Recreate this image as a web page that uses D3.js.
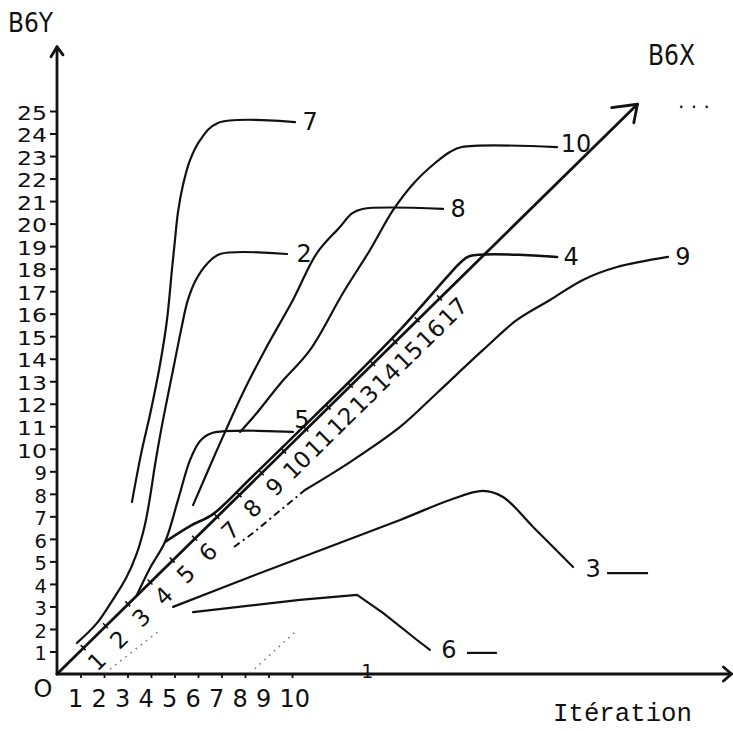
<!DOCTYPE html>
<html><head><meta charset="utf-8">
<script src="https://cdn.jsdelivr.net/npm/d3@7"></script>
<style>body{margin:0;background:#fff}svg{display:block}</style>
</head><body>
<svg id="c" width="733" height="731"></svg>
<script>
// ---------- DATA (x = itération, y = B6Y) ----------
const yTickValues = d3.range(1, 26);
const xTickValues = [1,2,3,4,5,6,7,8,9,10];
const diagTickValues = d3.range(1, 18);           // graduations along B6X
const b6xTip = [24.7, 25.3];                       // end of the oblique B6X axis

const curve7  = [[3.19,7.64],[3.57,9.73],[4.00,11.72],[4.38,13.72],[4.68,15.72],[4.89,17.94],[5.02,19.27],[5.15,20.52],[5.36,21.71],[5.66,22.82],[6.09,23.71],[6.85,24.47],[10.13,24.51]];
const curve2  = [[0.85,1.38],[1.70,2.26],[2.34,3.24],[2.94,4.26],[3.40,5.37],[3.74,6.62],[3.96,7.86],[4.17,9.28],[4.43,10.83],[4.68,12.17],[4.98,13.72],[5.28,15.28],[5.57,16.61],[5.91,17.50],[6.38,18.21],[6.94,18.65],[9.79,18.65]];
const curve8  = [[5.79,7.50],[6.81,9.95],[7.91,12.48],[8.85,14.39],[10.04,16.61],[11.06,18.69],[12.04,19.85],[12.55,20.45],[13.0,20.65],[16.43,20.65]];
const curve10 = [[7.79,10.75],[8.43,11.50],[9.49,12.88],[10.77,14.39],[12.17,16.92],[13.32,18.83],[14.30,20.60],[15.23,21.85],[16.09,22.69],[16.72,23.18],[17.23,23.40],[21.28,23.40]];
const curve5  = [[3.40,3.51],[3.96,4.71],[4.60,5.87],[5.15,7.73],[5.66,9.50],[6.09,10.35],[6.60,10.70],[10.04,10.75]];
const curve4  = [[4.60,5.87],[5.66,6.57],[6.64,7.10],[8.21,8.66],[10.34,10.83],[12.47,13.01],[14.60,15.28],[16.60,17.63],[17.15,18.25],[17.57,18.56],[21.28,18.52]];
const curve9dashed = [[7.53,5.64],[8.34,6.26],[10.04,7.73],[10.55,8.17]];
const curve9  = [[10.55,8.17],[12.47,9.41],[14.60,10.97],[16.17,12.48],[18.13,14.39],[19.57,15.72],[20.98,16.61],[22.38,17.50],[23.83,18.07],[26.0,18.52]];
const curve3  = [[4.94,2.98],[8.21,4.31],[14.60,6.84],[16.72,7.73],[18.13,8.13],[18.98,7.86],[20.26,6.53],[21.96,4.75]];
const curve6  = [[5.79,2.75],[10.34,3.29],[12.77,3.51],[13.87,2.71],[15.32,1.51],[15.87,1.07]];
const faintDotted = [[[2.04,0.04],[4.38,1.95]], [[8.21,0.04],[10.13,1.86]]];
const axisMark1 = 13.2;   // the "1" written on the iteration axis

const seriesNames = ["7","2","8","10","5","4","9","3","6"];
const seriesData  = [curve7, curve2, curve8, curve10, curve5, curve4, curve9, curve3, curve6];

// ---------- LAYOUT ----------
const svg = d3.select("#c");
const x = d3.scaleLinear().domain([0, 28.7]).range([57, 731.45]);
const y = d3.scaleLinear().domain([0, 25]).range([674, 111]);
const yTop = 27.85;
const font = "'DejaVu Sans', sans-serif";
const ink = "#111";

const labelOff = { "7":[15,0], "2":[17,0], "8":[15,0], "10":[19,-3], "5":[9,-12], "4":[14,0], "9":[15,0], "3":[20,2], "6":[19,0] };
const tails = { "3":[14,55,4], "6":[18,48,3] };

// y axis
const yAx = svg.append("g").attr("transform", `translate(${x(0)},0)`)
  .call(d3.axisLeft(y).tickValues(yTickValues).tickSize(7).tickPadding(3).tickFormat(d3.format("d")));
yAx.select(".domain").remove();
yAx.selectAll("line").attr("stroke", ink).attr("stroke-width", 2);
yAx.selectAll("text").attr("font-family", font).attr("font-size", 19.5).attr("fill", ink).attr("dy", "0.42em")
  .attr("textLength", 30).attr("lengthAdjust", "spacingAndGlyphs")
  .filter(d => d < 10).attr("textLength", null);

// x axis
const xAx = svg.append("g").attr("transform", `translate(0,${y(0)})`)
  .call(d3.axisBottom(x).tickValues(xTickValues).tickSize(4).tickPadding(12).tickFormat(d3.format("d")));
xAx.select(".domain").remove();
xAx.selectAll("line").attr("stroke", ink).attr("stroke-width", 1.8);
xAx.selectAll("text").attr("font-family", font).attr("font-size", 24).attr("fill", ink)
  .attr("text-anchor", "start").attr("x", -13);

// axis lines
const axisStyle = s => s.attr("stroke", ink).attr("stroke-width", 2.8).attr("fill", "none").attr("stroke-linecap","round").attr("stroke-linejoin","round");
svg.append("line").attr("x1", x(0)).attr("y1", y(0)).attr("x2", x(0)).attr("y2", y(yTop)).call(axisStyle);
svg.append("path").attr("d", `M${x(0)-6},${y(yTop)+10}L${x(0)},${y(yTop)}L${x(0)+6},${y(yTop)+8}`).call(axisStyle);
svg.append("line").attr("x1", x(0)).attr("y1", y(0)).attr("x2", x(28.7)).attr("y2", y(0)).call(axisStyle);
svg.append("path").attr("d", `M${x(28.7)-8},${y(0)-7}L${x(28.7)},${y(0)}L${x(28.7)-8},${y(0)+7}`).call(axisStyle);

// oblique B6X axis
const p0 = [x(0), y(0)], p1 = [x(b6xTip[0]), y(b6xTip[1])];
const len = Math.hypot(p1[0]-p0[0], p1[1]-p0[1]);
const u = [(p1[0]-p0[0])/len, (p1[1]-p0[1])/len];
const n = [-u[1], u[0]];
const ang = Math.atan2(u[1], u[0]) * 180 / Math.PI;
svg.append("line").attr("x1", p0[0]).attr("y1", p0[1]).attr("x2", p1[0]).attr("y2", p1[1]).call(axisStyle);
const barb = (a, L) => { const c = Math.cos(a), s = Math.sin(a); const bx = -u[0], by = -u[1];
  return [p1[0] + L*(bx*c - by*s), p1[1] + L*(bx*s + by*c)]; };
const b1 = barb(0.65, 26), b2 = barb(-0.6, 19);
svg.append("path").attr("d", `M${b1[0]},${b1[1]}L${p1[0]},${p1[1]}L${b2[0]},${b2[1]}`).call(axisStyle);

const diag = d3.scaleLinear().domain([0, 17]).range([6, 536.4]);
const dg = svg.append("g");
diagTickValues.forEach(k => {
  const a = diag(k), px = p0[0] + u[0]*a, py = p0[1] + u[1]*a;
  dg.append("line").attr("x1", px - n[0]*4).attr("y1", py - n[1]*4).attr("x2", px + n[0]*3).attr("y2", py + n[1]*3)
    .attr("stroke", ink).attr("stroke-width", 1.6);
  const lx = px + n[0]*19, ly = py + n[1]*19;
  dg.append("text").attr("transform", `translate(${lx},${ly}) rotate(${ang})`)
    .attr("text-anchor", "middle").attr("dominant-baseline", "central")
    .attr("font-family", font).attr("font-size", 23).attr("fill", ink).text(k);
});

// faint dotted guide lines
faintDotted.forEach(seg => {
  svg.append("path").attr("d", d3.line().x(d => x(d[0])).y(d => y(d[1]))(seg))
    .attr("stroke", "#777").attr("stroke-width", 1.6).attr("stroke-dasharray", "1.5,5").attr("fill", "none");
});

// curves
const smooth = d3.line().x(d => x(d[0])).y(d => y(d[1])).curve(d3.curveCatmullRom.alpha(0.5));
const straight = d3.line().x(d => x(d[0])).y(d => y(d[1]));
const cg = svg.append("g");
seriesNames.forEach((name, i) => {
  const data = seriesData[i];
  const gen = (name === "6") ? straight : smooth;
  cg.append("path").attr("d", gen(data)).attr("fill", "none").attr("stroke", ink)
    .attr("stroke-width", name === "4" ? 2.6 : 2.2).attr("stroke-linejoin", "round").attr("stroke-linecap", "round");
  const last = data[data.length - 1], off = labelOff[name];
  const lx = x(last[0]) + off[0], ly = y(last[1]) + off[1];
  cg.append("text").attr("x", lx).attr("y", ly).attr("text-anchor", "middle").attr("dominant-baseline", "central")
    .attr("font-family", font).attr("font-size", 24).attr("fill", ink).text(name);
  if (tails[name]) {
    const t = tails[name];
    cg.append("line").attr("x1", lx + t[0]).attr("x2", lx + t[1]).attr("y1", ly + t[2]).attr("y2", ly + t[2])
      .attr("stroke", ink).attr("stroke-width", 2.2);
  }
});
cg.append("path").attr("d", straight(curve9dashed)).attr("fill", "none").attr("stroke", ink)
  .attr("stroke-width", 2).attr("stroke-dasharray", "7,4,2,4");

// texts
svg.append("text").attr("x", 8).attr("y", 32).attr("font-family", font).attr("font-size", 27)
  .attr("textLength", 45).attr("lengthAdjust", "spacingAndGlyphs").attr("fill", ink).text("B6Y");
svg.append("text").attr("x", 648).attr("y", 65).attr("font-family", font).attr("font-size", 29)
  .attr("textLength", 47).attr("lengthAdjust", "spacingAndGlyphs").attr("fill", ink).text("B6X");
svg.append("text").attr("x", 678).attr("y", 108).attr("font-family", font).attr("font-size", 20).attr("fill", ink).text(". . .");
svg.append("text").attr("x", 553).attr("y", 721).attr("font-family", "'Liberation Mono', monospace").attr("font-size", 25)
  .attr("textLength", 139).attr("lengthAdjust", "spacingAndGlyphs").attr("fill", ink).text("Itération");
svg.append("text").attr("x", 43).attr("y", 689).attr("text-anchor", "middle").attr("dominant-baseline", "central")
  .attr("font-family", font).attr("font-size", 24).attr("fill", ink).text("O");
svg.append("text").attr("x", x(axisMark1)).attr("y", y(0) + 4).attr("text-anchor", "middle")
  .attr("font-family", font).attr("font-size", 19).attr("fill", ink).text("1");
</script>
</body></html>
